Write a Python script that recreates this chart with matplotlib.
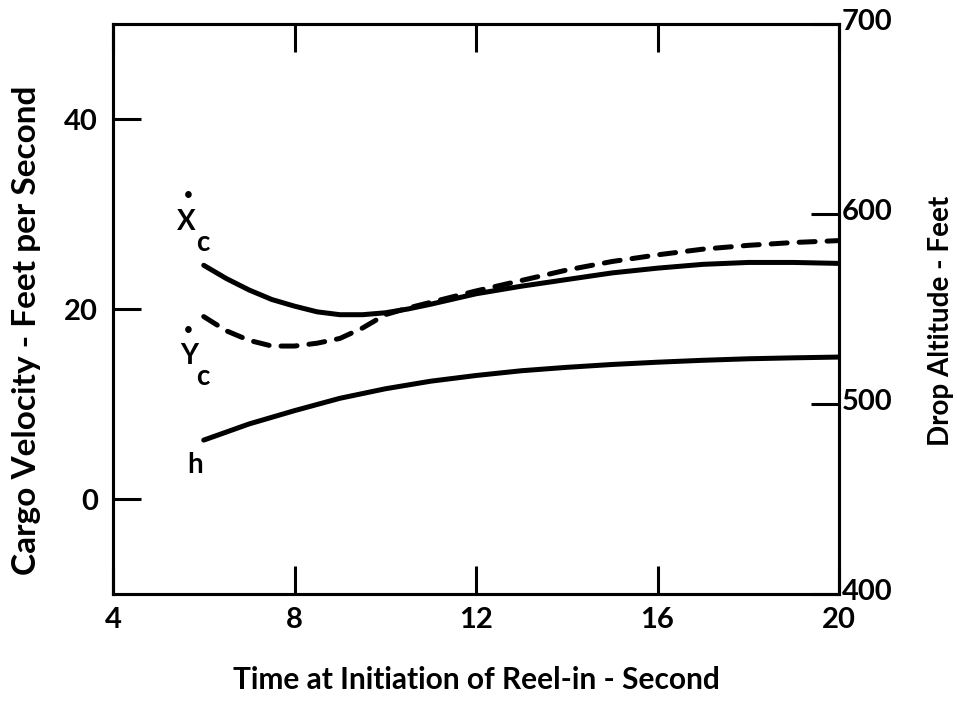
import matplotlib
matplotlib.use("Agg")
import matplotlib.pyplot as plt
import matplotlib.transforms as mtransforms

# Time at initiation of reel-in (s)
t = [6, 6.5, 7, 7.5, 8, 8.5, 9, 9.5, 10, 10.5, 11, 12, 13, 14, 15, 16, 17, 18, 19, 20]
# Horizontal cargo velocity Xc (ft/s)
xc = [24.6, 23.2, 22.0, 21.0, 20.3, 19.7, 19.4, 19.4, 19.6, 20.0, 20.5, 21.6, 22.4, 23.1, 23.8, 24.3, 24.7, 24.9, 24.9, 24.8]
# Vertical cargo velocity Yc (ft/s)
yc = [19.2, 17.7, 16.7, 16.1, 16.1, 16.4, 16.9, 18.0, 19.4, 20.1, 20.7, 21.9, 23.0, 24.1, 25.0, 25.7, 26.3, 26.7, 27.0, 27.2]
# Drop altitude h (ft)
t_h = [6, 7, 8, 9, 10, 11, 12, 13, 14, 15, 16, 17, 18, 19, 20]
h = [481, 489.5, 496.5, 503, 508, 512, 515, 517.5, 519.3, 520.8, 522, 523, 523.8, 524.3, 524.7]

x_ticks = [4, 8, 12, 16, 20]
v_ticks = [0, 20, 40]
h_ticks = [400, 500, 600, 700]

FONT = "Lato"
plt.rcParams["font.family"] = [FONT, "DejaVu Sans"]
plt.rcParams["font.weight"] = "bold"

fig = plt.figure(figsize=(9.57, 7.01), dpi=100)
ax = fig.add_axes([113 / 957, 1 - 594 / 701, (839 - 113) / 957, (594 - 24) / 701])
ax2 = ax.twinx()

lw_curve = 3.6
ax.plot(t, xc, color="black", lw=lw_curve, solid_capstyle="round")
ax.plot(t, yc, color="black", lw=lw_curve, linestyle=(0, (3.2, 2.4)),
        dash_capstyle="round")
ax2.plot(t_h, h, color="black", lw=lw_curve, solid_capstyle="round")

ax.set_xlim(4, 20)
ax.set_ylim(-10, 50)
ax2.set_ylim(400, 700)

for a in (ax, ax2):
    for s in a.spines.values():
        s.set_linewidth(2.2)

fs_tick = 21
ax.set_xticks(x_ticks)
ax.set_xticklabels([str(v) for v in x_ticks], fontsize=fs_tick, fontweight="bold")
ax.set_yticks(v_ticks)
ax.set_yticklabels([str(v) for v in v_ticks], fontsize=fs_tick, fontweight="bold")
ax.tick_params(axis="x", direction="in", length=20, width=2.2, top=True, pad=9)
ax.tick_params(axis="y", direction="in", length=20, width=2.2, right=False, pad=11)

ax2.set_yticks(h_ticks)
ax2.set_yticklabels([str(v) for v in h_ticks], fontsize=fs_tick, fontweight="bold")
ax2.tick_params(axis="y", direction="in", length=20, width=2.2, pad=2)
shift_up = mtransforms.ScaledTranslation(0, 5 / 100, fig.dpi_scale_trans)
for lbl in ax2.get_yticklabels():
    lbl.set_transform(lbl.get_transform() + shift_up)

ax.set_xlabel("Time at Initiation of Reel-in - Second", fontsize=21.5,
              fontweight="bold", labelpad=24)
ax.set_ylabel("Cargo Velocity - Feet per Second", fontsize=24,
              fontweight="bold")
ax.yaxis.set_label_coords(-0.099, 0.463)
ax2.set_ylabel("Drop Altitude - Feet", fontsize=20, fontweight="bold")
ax2.yaxis.set_label_coords(1.1226, 0.48)

# Curve identifiers
lab = dict(fontsize=20, fontweight="bold", ha="center", va="center")
ax.text(5.61, 29.2, "X", **lab)
ax.text(5.98, 26.9, "c", **lab)
ax.text(5.67, 32.0, "•", fontsize=11, ha="center", va="center")
ax.text(5.67, 15.1, "Y", **lab)
ax.text(5.98, 12.8, "c", **lab)
ax.text(5.67, 17.8, "•", fontsize=11, ha="center", va="center")
ax.text(5.81, 3.6, "h", **lab)

fig.savefig("out.png", dpi=100)
